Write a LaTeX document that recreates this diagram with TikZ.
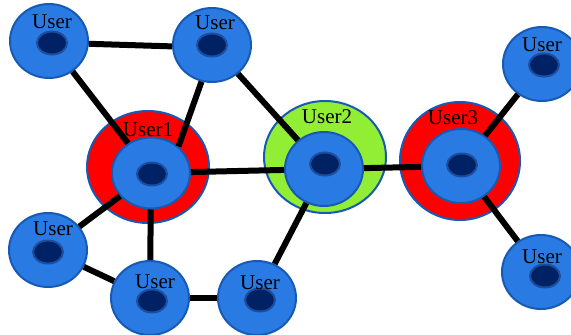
\documentclass[tikz,border=0pt]{standalone}
\usepackage{fontspec}
\setmainfont{Liberation Serif}
\usetikzlibrary{shapes.geometric}
\definecolor{ublue}{RGB}{42,122,228}
\definecolor{uborder}{RGB}{22,90,180}
\definecolor{ucore}{RGB}{0,34,100}
\definecolor{uring}{RGB}{28,78,160}
\definecolor{hred}{RGB}{255,0,0}
\definecolor{hgreen}{RGB}{146,238,52}
\begin{document}
\begin{tikzpicture}[x=1pt,y=-1pt,
 user/.style={ellipse,draw=uborder,line width=2pt,fill=ublue,inner sep=0pt,minimum width=78pt,minimum height=74pt},
 core/.style={ellipse,draw=uring,line width=2pt,fill=ucore,inner sep=0pt,minimum width=30pt,minimum height=23pt},
 halo/.style={ellipse,draw=uborder,line width=2pt,inner sep=0pt,minimum width=122pt,minimum height=112pt},
 lbl/.style={font=\fontsize{21}{21}\selectfont,inner sep=0pt},
 link/.style={line width=6pt,black}]
\useasboundingbox (0,0) rectangle (571,335);
\clip (0,0) rectangle (571,335);
\fill[white] (0,0) rectangle (571,335);
% halos
\node[halo,fill=hred] (h1) at (148,167) {};
\node[halo,fill=hgreen] (h2) at (325,157) {};
\node[halo,fill=hred,minimum width=120pt,minimum height=118pt] (h3) at (460,161) {};
% users
\node[user] (a) at (49,41) {};
\node[user] (b) at (212,45) {};
\node[user,minimum height=71pt] (c) at (151,173) {};
\node[user] (d) at (324,169) {};
\node[user] (e) at (461,166) {};
\node[user] (f) at (542,64) {};
\node[user] (g) at (541,272) {};
\node[user] (h) at (48,250) {};
\node[user] (i) at (150,298) {};
\node[user] (j) at (257,298) {};
% links
\draw[link] (a.-4) -- (b.182);
\draw[link] (a) -- (c);
\draw[link] (b.254) -- (c.44);
\draw[link] (b) -- (d);
\draw[link] (c) -- (d);
\draw[link] (d) -- (e);
\draw[link] (e) -- (f);
\draw[link] (e) -- (g);
\draw[link] (c) -- (h);
\draw[link] (c) -- (i);
\draw[link] (h) -- (i);
\draw[link] (i) -- (j);
\draw[link] (j) -- (d);
% cores
\node[core] (ca) at (52,43) {};
\node[core] (cb) at (212,45) {};
\node[core] (cc) at (152,174) {};
\node[core] (cd) at (325,164) {};
\node[core] (ce) at (462,165) {};
\node[core] (cf) at (544,65) {};
\node[core] (cg) at (545,276) {};
\node[core] (ch) at (48,252) {};
\node[core] (ci) at (152,301) {};
\node[core] (cj) at (260,300) {};
% labels
\node[lbl] (la) at (52,22) {User};
\node[lbl] (lb) at (215,23) {User};
\node[lbl] (lc) at (148,130) {User1};
\node[lbl] (ld) at (327,117) {User2};
\node[lbl] (le) at (453,118) {User3};
\node[lbl] (lf) at (542,45) {User};
\node[lbl] (lg) at (542,257) {User};
\node[lbl] (lh) at (53,229) {User};
\node[lbl] (li) at (155,282) {User};
\node[lbl] (lj) at (260,283) {User};
\end{tikzpicture}
\end{document}
